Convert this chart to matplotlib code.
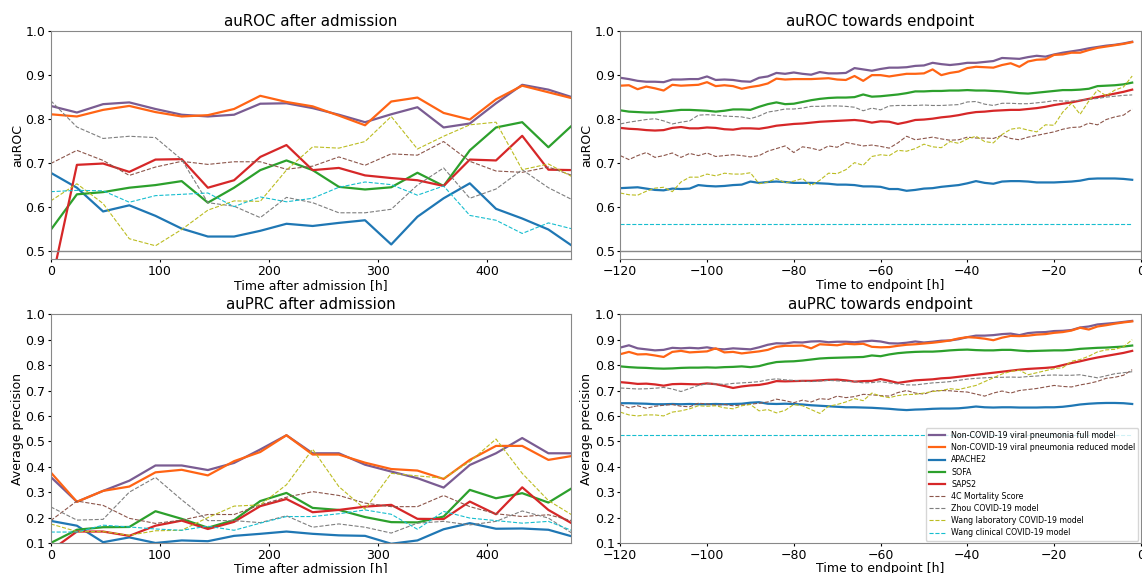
import matplotlib
matplotlib.use('Agg')
import matplotlib.pyplot as plt
import numpy as np

# nomes dos modelos (ordem da legenda)
modelos = ['Non-COVID-19 viral pneumonia full model',
           'Non-COVID-19 viral pneumonia reduced model',
           'APACHE2', 'SOFA', 'SAPS2',
           '4C Mortality Score', 'Zhou COVID-19 model',
           'Wang laboratory COVID-19 model', 'Wang clinical COVID-19 model']
cores = ['#7a5c92', '#ff6414', '#1f77b4', '#2ca02c', '#d62728',
         '#8c564b', '#7f7f7f', '#bcbd22', '#17becf']
tracejado = [False]*5 + [True]*4

# ---------------------------------------------------------------
# after admission (a cada 24h)
horas = [0, 24, 48, 72, 96, 120, 144, 168, 192, 216, 240, 264, 288, 312, 336, 360, 384, 408, 432, 456, 480]

roc_adm_full = [0.829, 0.814, 0.833, 0.837, 0.822, 0.809, 0.805, 0.809, 0.834, 0.835, 0.824, 0.809, 0.792, 0.810, 0.826, 0.780, 0.789, 0.835, 0.877, 0.866, 0.847]
roc_adm_red = [0.810, 0.805, 0.820, 0.829, 0.815, 0.805, 0.808, 0.822, 0.852, 0.838, 0.828, 0.807, 0.785, 0.839, 0.848, 0.813, 0.798, 0.844, 0.875, 0.860, 0.845]
roc_adm_apache = [0.677, 0.643, 0.589, 0.603, 0.579, 0.550, 0.532, 0.532, 0.545, 0.561, 0.556, 0.563, 0.569, 0.514, 0.577, 0.619, 0.653, 0.595, 0.573, 0.548, 0.507]
roc_adm_sofa = [0.547, 0.628, 0.633, 0.643, 0.649, 0.658, 0.609, 0.643, 0.683, 0.705, 0.683, 0.645, 0.639, 0.644, 0.677, 0.647, 0.728, 0.780, 0.792, 0.735, 0.790]
roc_adm_saps = [0.418, 0.695, 0.698, 0.679, 0.707, 0.708, 0.643, 0.660, 0.713, 0.740, 0.683, 0.688, 0.671, 0.665, 0.660, 0.647, 0.707, 0.705, 0.761, 0.684, 0.683]
roc_adm_4c = [0.698, 0.728, 0.705, 0.671, 0.690, 0.703, 0.696, 0.702, 0.702, 0.685, 0.692, 0.713, 0.694, 0.720, 0.717, 0.748, 0.703, 0.681, 0.678, 0.690, 0.669]
roc_adm_zhou = [0.841, 0.781, 0.755, 0.760, 0.757, 0.707, 0.609, 0.601, 0.575, 0.621, 0.609, 0.586, 0.586, 0.594, 0.649, 0.688, 0.619, 0.640, 0.684, 0.643, 0.613]
roc_adm_wlab = [0.613, 0.652, 0.607, 0.527, 0.511, 0.548, 0.592, 0.613, 0.612, 0.683, 0.736, 0.733, 0.748, 0.805, 0.731, 0.760, 0.786, 0.792, 0.684, 0.697, 0.665]
roc_adm_wcli = [0.634, 0.637, 0.636, 0.610, 0.625, 0.628, 0.631, 0.600, 0.622, 0.611, 0.619, 0.644, 0.656, 0.650, 0.626, 0.647, 0.580, 0.569, 0.539, 0.563, 0.548]

prc_adm_full = [0.360, 0.262, 0.305, 0.345, 0.405, 0.405, 0.387, 0.415, 0.468, 0.524, 0.453, 0.453, 0.408, 0.381, 0.355, 0.318, 0.407, 0.453, 0.513, 0.453, 0.453]
prc_adm_red = [0.378, 0.262, 0.305, 0.322, 0.378, 0.388, 0.366, 0.422, 0.458, 0.524, 0.448, 0.448, 0.416, 0.391, 0.385, 0.352, 0.427, 0.482, 0.482, 0.427, 0.444]
prc_adm_apache = [0.187, 0.168, 0.103, 0.122, 0.100, 0.110, 0.107, 0.128, 0.136, 0.145, 0.136, 0.130, 0.128, 0.097, 0.110, 0.154, 0.178, 0.156, 0.157, 0.152, 0.123]
prc_adm_sofa = [0.100, 0.152, 0.162, 0.163, 0.225, 0.195, 0.160, 0.190, 0.265, 0.297, 0.238, 0.230, 0.202, 0.182, 0.181, 0.204, 0.309, 0.276, 0.296, 0.259, 0.322]
prc_adm_saps = [0.070, 0.145, 0.145, 0.128, 0.168, 0.188, 0.155, 0.183, 0.245, 0.273, 0.221, 0.230, 0.243, 0.250, 0.195, 0.194, 0.263, 0.213, 0.319, 0.230, 0.171]
prc_adm_4c = [0.188, 0.265, 0.248, 0.197, 0.177, 0.190, 0.212, 0.212, 0.250, 0.280, 0.302, 0.287, 0.257, 0.243, 0.243, 0.287, 0.243, 0.215, 0.204, 0.211, 0.185]
prc_adm_zhou = [0.242, 0.190, 0.193, 0.300, 0.358, 0.270, 0.188, 0.188, 0.180, 0.207, 0.162, 0.175, 0.162, 0.139, 0.178, 0.185, 0.171, 0.185, 0.226, 0.198, 0.132]
prc_adm_wlab = [0.175, 0.145, 0.145, 0.130, 0.148, 0.150, 0.200, 0.245, 0.250, 0.329, 0.469, 0.322, 0.233, 0.374, 0.364, 0.355, 0.420, 0.509, 0.374, 0.267, 0.204]
prc_adm_wcli = [0.143, 0.143, 0.170, 0.163, 0.155, 0.150, 0.166, 0.150, 0.178, 0.204, 0.204, 0.215, 0.230, 0.213, 0.154, 0.224, 0.198, 0.188, 0.178, 0.185, 0.145]

# ---------------------------------------------------------------
# towards endpoint (a cada 2h, de -120 a -2)
tempo = list(range(-120, 0, 2))

roc_end_full = [0.893, 0.890, 0.886, 0.884, 0.884, 0.883, 0.889, 0.889, 0.890, 0.890, 0.896, 0.888, 0.889, 0.888, 0.885, 0.884, 0.893, 0.896, 0.904, 0.902,
                0.905, 0.902, 0.900, 0.906, 0.903, 0.903, 0.904, 0.915, 0.912, 0.909, 0.913, 0.916, 0.916, 0.917, 0.920, 0.921, 0.927, 0.924, 0.922, 0.924,
                0.927, 0.927, 0.929, 0.931, 0.938, 0.937, 0.936, 0.940, 0.943, 0.941, 0.946, 0.950, 0.953, 0.956, 0.960, 0.963, 0.966, 0.968, 0.971, 0.975]
roc_end_red = [0.875, 0.876, 0.867, 0.873, 0.869, 0.864, 0.877, 0.875, 0.876, 0.877, 0.883, 0.874, 0.876, 0.874, 0.868, 0.872, 0.875, 0.880, 0.891, 0.889,
               0.890, 0.890, 0.890, 0.891, 0.892, 0.889, 0.888, 0.897, 0.886, 0.899, 0.899, 0.896, 0.899, 0.902, 0.902, 0.903, 0.912, 0.899, 0.904, 0.907,
               0.915, 0.918, 0.917, 0.916, 0.922, 0.926, 0.918, 0.930, 0.934, 0.935, 0.945, 0.946, 0.950, 0.950, 0.956, 0.961, 0.964, 0.967, 0.970, 0.974]
roc_end_apache = [0.642, 0.643, 0.644, 0.641, 0.638, 0.637, 0.641, 0.640, 0.641, 0.649, 0.647, 0.646, 0.647, 0.649, 0.650, 0.657, 0.654, 0.656, 0.657, 0.656,
                  0.654, 0.654, 0.654, 0.653, 0.652, 0.650, 0.650, 0.649, 0.646, 0.646, 0.645, 0.640, 0.640, 0.636, 0.638, 0.641, 0.642, 0.645, 0.647, 0.649,
                  0.653, 0.658, 0.654, 0.652, 0.657, 0.658, 0.658, 0.657, 0.655, 0.655, 0.655, 0.656, 0.657, 0.659, 0.663, 0.664, 0.664, 0.664, 0.663, 0.661]
roc_end_sofa = [0.819, 0.816, 0.815, 0.814, 0.814, 0.816, 0.818, 0.820, 0.820, 0.819, 0.818, 0.816, 0.818, 0.821, 0.821, 0.820, 0.827, 0.833, 0.837, 0.833,
                0.834, 0.838, 0.842, 0.845, 0.847, 0.848, 0.848, 0.849, 0.855, 0.850, 0.851, 0.853, 0.855, 0.858, 0.862, 0.862, 0.863, 0.863, 0.864, 0.864,
                0.865, 0.864, 0.864, 0.863, 0.862, 0.860, 0.858, 0.857, 0.859, 0.861, 0.863, 0.865, 0.865, 0.866, 0.868, 0.874, 0.875, 0.876, 0.878, 0.882]
roc_end_saps = [0.779, 0.777, 0.776, 0.774, 0.773, 0.774, 0.779, 0.781, 0.778, 0.778, 0.780, 0.779, 0.776, 0.775, 0.778, 0.778, 0.777, 0.780, 0.784, 0.786,
                0.788, 0.789, 0.791, 0.793, 0.794, 0.795, 0.796, 0.797, 0.795, 0.791, 0.794, 0.793, 0.788, 0.792, 0.797, 0.798, 0.800, 0.803, 0.805, 0.808,
                0.812, 0.815, 0.816, 0.818, 0.819, 0.820, 0.820, 0.822, 0.824, 0.827, 0.831, 0.834, 0.837, 0.841, 0.845, 0.849, 0.853, 0.857, 0.861, 0.866]
roc_end_4c = [0.716, 0.707, 0.716, 0.723, 0.712, 0.716, 0.722, 0.712, 0.721, 0.716, 0.722, 0.714, 0.716, 0.718, 0.716, 0.713, 0.716, 0.726, 0.732, 0.738,
              0.723, 0.736, 0.733, 0.728, 0.738, 0.735, 0.746, 0.742, 0.738, 0.740, 0.737, 0.733, 0.745, 0.760, 0.752, 0.755, 0.758, 0.754, 0.751, 0.752,
              0.758, 0.756, 0.756, 0.755, 0.762, 0.755, 0.752, 0.758, 0.762, 0.766, 0.770, 0.776, 0.780, 0.781, 0.790, 0.786, 0.798, 0.804, 0.808, 0.822]
roc_end_zhou = [0.788, 0.792, 0.795, 0.798, 0.800, 0.795, 0.788, 0.792, 0.795, 0.808, 0.809, 0.808, 0.806, 0.805, 0.804, 0.800, 0.806, 0.815, 0.818, 0.822,
                0.822, 0.824, 0.828, 0.828, 0.829, 0.829, 0.828, 0.826, 0.818, 0.824, 0.820, 0.829, 0.830, 0.830, 0.830, 0.831, 0.830, 0.830, 0.831, 0.832,
                0.838, 0.839, 0.833, 0.830, 0.835, 0.835, 0.834, 0.834, 0.836, 0.838, 0.841, 0.840, 0.840, 0.842, 0.844, 0.846, 0.849, 0.851, 0.853, 0.854]
roc_end_wlab = [0.631, 0.627, 0.626, 0.635, 0.642, 0.644, 0.634, 0.656, 0.667, 0.667, 0.674, 0.670, 0.676, 0.674, 0.674, 0.677, 0.652, 0.656, 0.664, 0.654,
                0.658, 0.664, 0.648, 0.660, 0.676, 0.675, 0.684, 0.700, 0.694, 0.714, 0.718, 0.716, 0.728, 0.726, 0.732, 0.742, 0.736, 0.734, 0.748, 0.744,
                0.754, 0.760, 0.748, 0.745, 0.764, 0.776, 0.779, 0.774, 0.770, 0.786, 0.785, 0.815, 0.835, 0.810, 0.840, 0.865, 0.852, 0.865, 0.872, 0.897]
roc_end_wcli = [0.56]*60

prc_end_full = [0.869, 0.878, 0.866, 0.862, 0.858, 0.860, 0.868, 0.866, 0.868, 0.866, 0.870, 0.864, 0.862, 0.866, 0.864, 0.862, 0.870, 0.880, 0.886, 0.885,
                0.890, 0.889, 0.893, 0.894, 0.890, 0.892, 0.892, 0.890, 0.893, 0.896, 0.893, 0.886, 0.885, 0.888, 0.893, 0.889, 0.892, 0.896, 0.897, 0.902,
                0.910, 0.916, 0.916, 0.918, 0.922, 0.924, 0.918, 0.926, 0.929, 0.930, 0.934, 0.935, 0.938, 0.948, 0.952, 0.960, 0.963, 0.966, 0.970, 0.974]
prc_end_red = [0.843, 0.852, 0.842, 0.843, 0.838, 0.832, 0.852, 0.856, 0.850, 0.852, 0.854, 0.866, 0.850, 0.852, 0.846, 0.850, 0.854, 0.860, 0.872, 0.876,
               0.876, 0.877, 0.866, 0.882, 0.880, 0.878, 0.884, 0.882, 0.884, 0.872, 0.870, 0.871, 0.876, 0.880, 0.882, 0.885, 0.888, 0.892, 0.897, 0.905,
               0.910, 0.908, 0.904, 0.898, 0.908, 0.915, 0.914, 0.916, 0.920, 0.922, 0.927, 0.930, 0.936, 0.947, 0.940, 0.952, 0.957, 0.963, 0.968, 0.972]
prc_end_apache = [0.650, 0.650, 0.649, 0.648, 0.646, 0.646, 0.647, 0.646, 0.647, 0.646, 0.646, 0.647, 0.646, 0.647, 0.648, 0.652, 0.654, 0.648, 0.647, 0.648,
                  0.647, 0.645, 0.642, 0.640, 0.638, 0.636, 0.634, 0.634, 0.633, 0.632, 0.630, 0.628, 0.625, 0.623, 0.625, 0.626, 0.628, 0.629, 0.629, 0.630,
                  0.633, 0.637, 0.634, 0.633, 0.634, 0.634, 0.633, 0.633, 0.633, 0.634, 0.634, 0.636, 0.640, 0.645, 0.648, 0.650, 0.651, 0.651, 0.650, 0.647]
prc_end_sofa = [0.795, 0.792, 0.790, 0.789, 0.787, 0.786, 0.787, 0.789, 0.790, 0.790, 0.791, 0.790, 0.792, 0.793, 0.795, 0.792, 0.796, 0.805, 0.812, 0.814,
                0.815, 0.818, 0.822, 0.826, 0.828, 0.829, 0.830, 0.831, 0.832, 0.838, 0.835, 0.842, 0.847, 0.850, 0.852, 0.853, 0.853, 0.855, 0.858, 0.860,
                0.861, 0.859, 0.858, 0.858, 0.860, 0.860, 0.857, 0.855, 0.856, 0.857, 0.858, 0.858, 0.860, 0.864, 0.866, 0.868, 0.869, 0.871, 0.873, 0.877]
prc_end_saps = [0.733, 0.730, 0.726, 0.727, 0.724, 0.719, 0.725, 0.726, 0.725, 0.724, 0.728, 0.725, 0.718, 0.710, 0.716, 0.720, 0.722, 0.728, 0.737, 0.736,
                0.737, 0.738, 0.738, 0.740, 0.742, 0.743, 0.740, 0.735, 0.737, 0.738, 0.745, 0.738, 0.730, 0.735, 0.740, 0.742, 0.744, 0.748, 0.750, 0.754,
                0.758, 0.762, 0.766, 0.770, 0.774, 0.778, 0.782, 0.785, 0.787, 0.789, 0.792, 0.800, 0.808, 0.815, 0.823, 0.830, 0.836, 0.842, 0.848, 0.856]
prc_end_4c = [0.645, 0.632, 0.640, 0.630, 0.638, 0.642, 0.645, 0.638, 0.636, 0.650, 0.647, 0.642, 0.645, 0.640, 0.643, 0.646, 0.650, 0.655, 0.666, 0.660,
              0.652, 0.662, 0.655, 0.668, 0.665, 0.678, 0.672, 0.676, 0.685, 0.683, 0.680, 0.678, 0.692, 0.700, 0.690, 0.686, 0.698, 0.700, 0.699, 0.696,
              0.694, 0.686, 0.678, 0.690, 0.698, 0.690, 0.700, 0.704, 0.708, 0.714, 0.720, 0.716, 0.714, 0.722, 0.728, 0.736, 0.748, 0.752, 0.760, 0.782]
prc_end_zhou = [0.710, 0.708, 0.706, 0.707, 0.709, 0.712, 0.706, 0.696, 0.708, 0.720, 0.726, 0.726, 0.724, 0.728, 0.730, 0.732, 0.735, 0.742, 0.746, 0.742,
                0.740, 0.737, 0.735, 0.737, 0.740, 0.738, 0.736, 0.735, 0.730, 0.731, 0.735, 0.730, 0.726, 0.722, 0.722, 0.726, 0.730, 0.732, 0.735, 0.740,
                0.745, 0.748, 0.750, 0.752, 0.752, 0.753, 0.752, 0.755, 0.757, 0.760, 0.761, 0.760, 0.760, 0.762, 0.756, 0.750, 0.758, 0.766, 0.770, 0.774]
prc_end_wlab = [0.615, 0.604, 0.600, 0.604, 0.604, 0.600, 0.615, 0.620, 0.628, 0.640, 0.638, 0.640, 0.632, 0.628, 0.640, 0.645, 0.620, 0.625, 0.612, 0.622,
                0.645, 0.640, 0.625, 0.610, 0.638, 0.645, 0.655, 0.668, 0.660, 0.690, 0.678, 0.672, 0.680, 0.684, 0.685, 0.690, 0.696, 0.700, 0.707, 0.704,
                0.712, 0.720, 0.735, 0.750, 0.765, 0.775, 0.780, 0.762, 0.770, 0.778, 0.786, 0.790, 0.815, 0.822, 0.835, 0.852, 0.860, 0.862, 0.872, 0.900]
prc_end_wcli = [0.525]*60

roc_adm = [roc_adm_full, roc_adm_red, roc_adm_apache, roc_adm_sofa, roc_adm_saps, roc_adm_4c, roc_adm_zhou, roc_adm_wlab, roc_adm_wcli]
prc_adm = [prc_adm_full, prc_adm_red, prc_adm_apache, prc_adm_sofa, prc_adm_saps, prc_adm_4c, prc_adm_zhou, prc_adm_wlab, prc_adm_wcli]
roc_end = [roc_end_full, roc_end_red, roc_end_apache, roc_end_sofa, roc_end_saps, roc_end_4c, roc_end_zhou, roc_end_wlab, roc_end_wcli]
prc_end = [prc_end_full, prc_end_red, prc_end_apache, prc_end_sofa, prc_end_saps, prc_end_4c, prc_end_zhou, prc_end_wlab, prc_end_wcli]

# ---------------------------------------------------------------
plt.rcParams['font.size'] = 9
plt.rcParams['xtick.major.size'] = 2.5
plt.rcParams['ytick.major.size'] = 2.5
plt.rcParams['xtick.major.pad'] = 1.5
plt.rcParams['ytick.major.pad'] = 1.5
plt.rcParams['axes.titlepad'] = 3.5

fig, axs = plt.subplots(2, 2, figsize=(11.42, 5.73), dpi=100)
fig.subplots_adjust(left=0.0444, right=0.999, bottom=0.0524, top=0.9464, wspace=0.094, hspace=0.24)

def desenha(ax, x, series):
    for i in range(len(series)):
        if tracejado[i]:
            ax.plot(x, series[i], '--', color=cores[i], lw=0.8, label=modelos[i])
        else:
            ax.plot(x, series[i], '-', color=cores[i], lw=1.6, label=modelos[i])
    for s in ax.spines.values():
        s.set_color('#888888')

ax = axs[0, 0]
desenha(ax, horas, roc_adm)
ax.axhline(0.5, color='#888888', lw=1)
ax.set_xlim(0, 477)
ax.set_ylim(0.48, 1.0)
ax.set_title('auROC after admission')
ax.set_xlabel('Time after admission [h]', labelpad=0.5)
ax.set_ylabel('auROC', labelpad=1)

ax = axs[0, 1]
desenha(ax, tempo, roc_end)
ax.axhline(0.5, color='#888888', lw=1)
ax.set_xlim(-120, 0)
ax.set_ylim(0.48, 1.0)
ax.set_title('auROC towards endpoint')
ax.set_xlabel('Time to endpoint [h]', labelpad=0.5)
ax.set_ylabel('auROC', labelpad=1)

ax = axs[1, 0]
desenha(ax, horas, prc_adm)
ax.set_xlim(0, 477)
ax.set_ylim(0.1, 1.0)
ax.set_yticks(np.arange(0.1, 1.01, 0.1))
ax.set_title('auPRC after admission')
ax.set_xlabel('Time after admission [h]', labelpad=0.5)
ax.set_ylabel('Average precision', labelpad=1)

ax = axs[1, 1]
desenha(ax, tempo, prc_end)
ax.set_xlim(-120, 0)
ax.set_ylim(0.1, 1.0)
ax.set_yticks(np.arange(0.1, 1.01, 0.1))
ax.set_title('auPRC towards endpoint')
ax.set_xlabel('Time to endpoint [h]', labelpad=0.5)
ax.set_ylabel('Average precision', labelpad=1)
ax.legend(loc='lower right', fontsize=5.7, borderaxespad=0.3, labelspacing=0.4)

fig.savefig('out.png', dpi=100)
